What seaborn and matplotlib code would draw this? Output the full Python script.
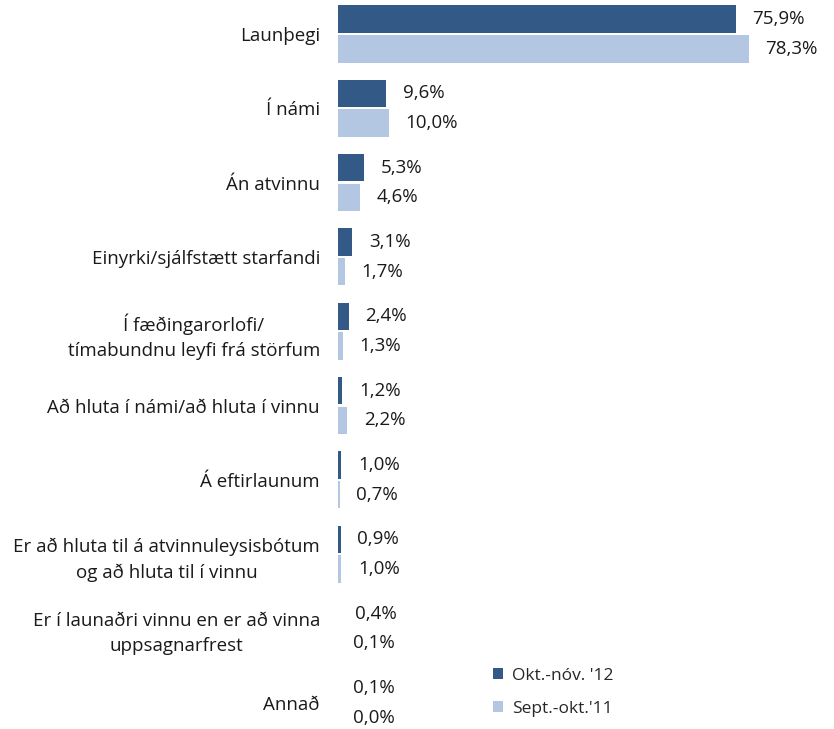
import matplotlib
matplotlib.use("Agg")
import matplotlib.pyplot as plt
import seaborn as sns
import pandas as pd

categories = [
    "Launþegi",
    "Í námi",
    "Án atvinnu",
    "Einyrki/sjálfstætt starfandi",
    "Í fæðingarorlofi/\ntímabundnu leyfi frá störfum",
    "Að hluta í námi/að hluta í vinnu",
    "Á eftirlaunum",
    "Er að hluta til á atvinnuleysisbótum\nog að hluta til í vinnu",
    "Er í launaðri vinnu en er að vinna\nuppsagnarfrest",
    "Annað",
]
series_names = ["Okt.-nóv. '12", "Sept.-okt.'11"]
values_2012 = [75.9, 9.6, 5.3, 3.1, 2.4, 1.2, 1.0, 0.9, 0.4, 0.1]
values_2011 = [78.3, 10.0, 4.6, 1.7, 1.3, 2.2, 0.7, 1.0, 0.1, 0.0]
colors = ["#335a87", "#b3c6e2"]

df = pd.DataFrame({
    "cat": categories * 2,
    "value": values_2012 + values_2011,
    "period": [series_names[0]] * len(categories) + [series_names[1]] * len(categories),
})

sns.set_style("white")
plt.rcParams["font.family"] = ["Open Sans", "DejaVu Sans"]
FS = 13.5

W, H = 834, 729
fig = plt.figure(figsize=(W / 100, H / 100), dpi=100)
left_px, right_px = 338, 830
ax = fig.add_axes([left_px / W, 0, (right_px - left_px) / W, 1])

sns.barplot(data=df, y="cat", x="value", hue="period", orient="h",
            palette=colors, width=0.8, gap=0.08, ax=ax, saturation=1,
            edgecolor="none", linewidth=0, legend=True)

px_per_pct = 5.27
x0 = 0.4
ax.set_xlim(x0, x0 + (right_px - left_px) / px_per_pct)
spacing = 74.3
c0 = 34
ax.set_ylim((H - c0) / spacing, -c0 / spacing)

for cont, vals in zip(ax.containers, [values_2012, values_2011]):
    texts = ax.bar_label(cont, labels=[f"{v:.1f}%".replace(".", ",") for v in vals],
                         padding=12, fontsize=FS, color="#1a1a1a")
    for t in texts:
        t.set_annotation_clip(False)

ax.set_xlabel("")
ax.set_ylabel("")
ax.set_xticks([])
ax.tick_params(axis="y", length=0, pad=13, labelsize=FS, labelcolor="#1a1a1a")
for lbl in ax.get_yticklabels():
    lbl.set_multialignment("center")
    lbl.set_linespacing(1.5)
for s in ax.spines.values():
    s.set_visible(False)

handles, labels = ax.get_legend_handles_labels()
ax.get_legend().remove()
fig.legend(handles, labels, loc="upper left", bbox_to_anchor=(477 / W, 1 - 652 / H),
           frameon=False, fontsize=12.5, handlelength=0.6, handleheight=0.6,
           handletextpad=0.5, labelspacing=1.0)

fig.savefig("out.png", dpi=100)
